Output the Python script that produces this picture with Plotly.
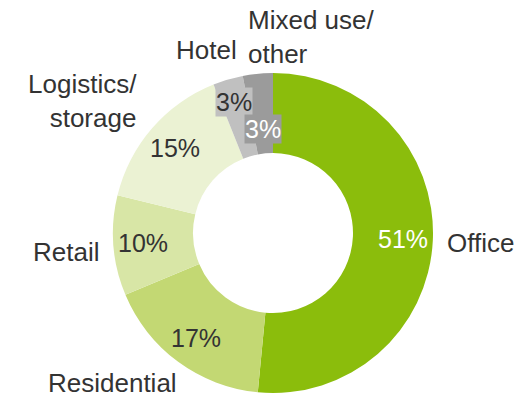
import math
import plotly.graph_objects as go

categories = ["Office", "Residential", "Retail", "Logistics/storage", "Hotel", "Mixed use/other"]
values = [51, 17, 10, 15, 3, 3]
pct_labels = ["51%", "17%", "10%", "15%", "3%", "3%"]
outer_labels = ["Office", "Residential", "Retail", "Logistics/<br>storage", "Hotel", "Mixed use/<br>other"]

colors = ["#8bbd0c", "#c3d873", "#d8e6a6", "#ebf2d3", "#c0c0c0", "#9b9b9b"]
pct_colors = ["white", "#333333", "#333333", "#333333", "#333333", "white"]
pct_bg = [None, None, None, None, "#c0c0c0", "#9b9b9b"]
pct_radius = [130, 130, 130, 130, 137, 104]

W, H = 515, 400
cx, cy, R = 273, 233, 160
FONT = "Liberation Sans, Arial, sans-serif"

fig = go.Figure(go.Pie(
    labels=categories, values=values, sort=False, direction="clockwise",
    rotation=0, hole=0.5, textinfo="none", hoverinfo="label+percent",
    marker=dict(colors=colors, line=dict(width=0)),
    domain=dict(x=[(cx - R) / W, (cx + R) / W], y=[(H - cy - R) / H, (H - cy + R) / H]),
    showlegend=False,
))

total = sum(values)
ann = []
cum = 0
for i, v in enumerate(values):
    mid = (cum + v / 2) / total * 2 * math.pi
    cum += v
    r = pct_radius[i]
    px = cx + r * math.sin(mid)
    py = cy - r * math.cos(mid)
    a = dict(x=px / W, y=1 - py / H, xref="paper", yref="paper", text=pct_labels[i],
             showarrow=False, font=dict(family=FONT, size=25, color=pct_colors[i]),
             xanchor="center", yanchor="middle", borderpad=0)
    if pct_bg[i]:
        a["bgcolor"] = pct_bg[i]
    ann.append(a)

# outer category labels (pixel positions, anchors)
outer_pos = [
    (445, 243, "left", "left"),
    (112, 383, "center", "center"),
    (101, 252, "right", "right"),
    (139, 101, "right", "right"),
    (206, 50, "center", "center"),
    (246, 37, "left", "left"),
]
for lbl, (px, py, xa, al) in zip(outer_labels, outer_pos):
    ann.append(dict(x=px / W, y=1 - py / H, xref="paper", yref="paper", text=lbl,
                    showarrow=False, font=dict(family=FONT, size=26, color="#333333"),
                    xanchor=xa, yanchor="middle", align=al))

fig.update_layout(width=W, height=H, margin=dict(l=0, r=0, t=0, b=0),
                  paper_bgcolor="white", plot_bgcolor="white", annotations=ann)
fig.write_html("out.html")
